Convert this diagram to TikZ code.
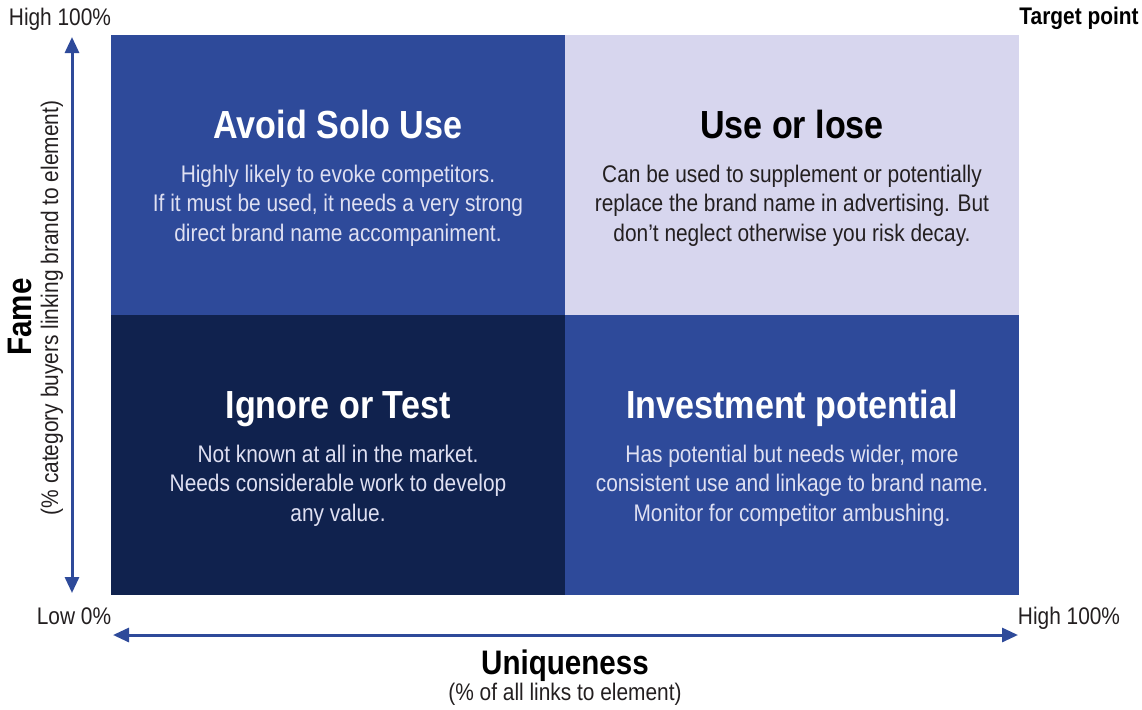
\documentclass[tikz,border=0pt]{standalone}
\usepackage{fontspec}
\setmainfont{Liberation Sans}[FakeStretch=0.87]
\usetikzlibrary{arrows.meta,positioning}
\definecolor{midblue}{HTML}{2E4A9A}
\definecolor{navy}{HTML}{10224E}
\definecolor{lilac}{HTML}{D7D6EE}
\definecolor{paleink}{HTML}{DFE0F2}
\definecolor{ink}{HTML}{231F20}

\begin{document}
\begin{tikzpicture}[
        x=0.5pt, y=-0.5pt,
        every node/.style={inner sep=0pt, outer sep=0pt},
        quad/.style={anchor=north west, minimum width=227pt, minimum height=140pt},
        title/.style={anchor=base, font=\fontsize{19.6}{22}\selectfont\bfseries},
        body/.style={anchor=base, align=center, font=\fontsize{12}{14.6}\selectfont},
        tick/.style={anchor=base, text=ink, font=\fontsize{12}{14}\selectfont},
        axislabel/.style={anchor=base, font=\fontsize{17}{20}\selectfont\bfseries},
        axis/.style={draw=midblue, line width=1.5pt,
            {Triangle[width=7pt,length=8pt]}-{Triangle[width=7pt,length=8pt]}}
    ]
    \useasboundingbox (0,0) rectangle (1142,709);

    \node[quad, fill=midblue] (avoid) at (111,35) {};
    \node[quad, fill=lilac] (use) at (565,35) {};
    \node[quad, fill=navy] (ignore) at (111,315) {};
    \node[quad, fill=midblue] (invest) at (565,315) {};

    \node[title, text=white] (avoidtitle) at (338,138) {Avoid Solo Use};
    \node[body, text=paleink] (avoidtext) at (338,241)
        {Highly likely to evoke competitors.\\If it must be used, it needs a very strong\\direct brand name accompaniment.};
    \node[title, text=black] (usetitle) at (792,138) {Use or lose};
    \node[body, text=ink] (usetext) at (792,241)
        {Can be used to supplement or potentially\\replace the brand name in advertising. But\\don’t neglect otherwise you risk decay.};
    \node[title, text=white] (ignoretitle) at (338,418) {Ignore or Test};
    \node[body, text=paleink] (ignoretext) at (338,521)
        {Not known at all in the market.\\Needs considerable work to develop\\any value.};
    \node[title, text=white] (investtitle) at (792,418) {Investment potential};
    \node[body, text=paleink] (investtext) at (792,521)
        {Has potential but needs wider, more\\consistent use and linkage to brand name.\\Monitor for competitor ambushing.};

    \coordinate (famehi) at (72,37);
    \coordinate (famelo) at (72,593);
    \coordinate (uniqlo) at (113,635);
    \coordinate (uniqhi) at (1018,635);
    \draw[axis] (famelo) -- (famehi);
    \draw[axis] (uniqlo) -- (uniqhi);

    \node[tick] (highfame) at (60,25) {High 100\%};
    \node[tick, font=\fontsize{12}{14}\selectfont\bfseries, text=black] (target) at (1079,24) {Target point};
    \node[tick] (low) at (74,624) {Low 0\%};
    \node[tick] (highuniq) at (1069,624) {High 100\%};

    \node[axislabel, rotate=90] (fame) at (32,317) {Fame};
    \node[tick, rotate=90] (famesub) at (58,308) {(\% category buyers linking brand to element)};
    \node[axislabel] (uniq) at (565,674) {Uniqueness};
    \node[tick] (uniqsub) at (565,700) {(\% of all links to element)};
\end{tikzpicture}
\end{document}
